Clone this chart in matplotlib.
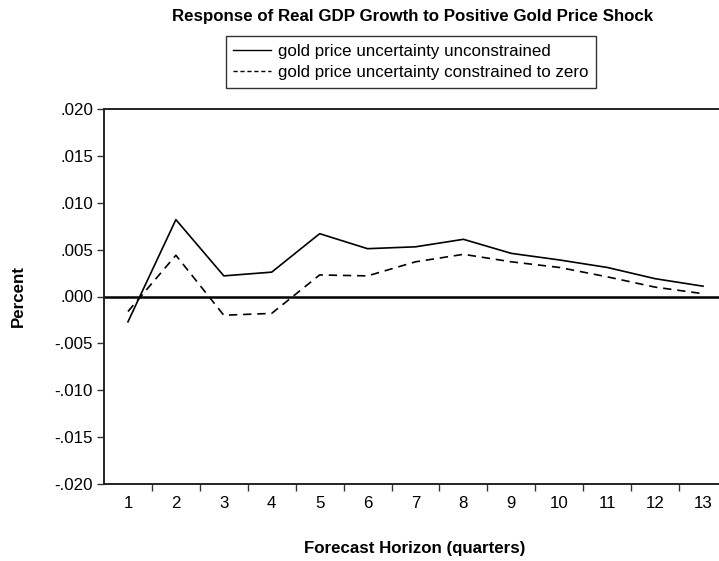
import matplotlib
matplotlib.use("Agg")
import matplotlib.pyplot as plt
from matplotlib.lines import Line2D

plt.rcParams['font.family'] = ['Liberation Sans', 'DejaVu Sans']

# Impulse responses of real GDP growth over the forecast horizon
horizon = list(range(1, 14))
unconstrained = [-0.0027, 0.0082, 0.0022, 0.0026, 0.0067, 0.0051, 0.0053,
                 0.0061, 0.0046, 0.0039, 0.0031, 0.0019, 0.0011]
constrained = [-0.0016, 0.0044, -0.0020, -0.0018, 0.0023, 0.0022, 0.0037,
               0.0045, 0.0037, 0.0031, 0.0021, 0.0010, 0.0003]
series_labels = ["gold price uncertainty unconstrained",
                 "gold price uncertainty constrained to zero"]
y_ticks = [-0.020, -0.015, -0.010, -0.005, 0.000, 0.005, 0.010, 0.015, 0.020]
y_tick_labels = ["-.020", "-.015", "-.010", "-.005", ".000",
                 ".005", ".010", ".015", ".020"]

FS = 12.2
W, H = 719, 561
fig = plt.figure(figsize=(W / 100, H / 100), dpi=100)
ax = fig.add_axes([104 / W, (H - 484) / H, 623 / W, 375 / H])

ax.plot(horizon, unconstrained, color='black', lw=1.2, ls='-')
ax.plot(horizon, constrained, color='black', lw=1.2, ls=(0, (5, 3.5)))
ax.axhline(0, color='black', lw=1.8)

ax.set_xlim(0.5, 13.5)
ax.set_ylim(-0.020, 0.020)

# category boundaries carry the tick marks, centres carry the labels
ax.set_xticks([h + 0.5 for h in horizon[:-1]])
ax.set_xticklabels([])
ax.set_xticks(horizon, minor=True)
ax.set_xticklabels([str(h) for h in horizon], minor=True)
ax.tick_params(axis='x', which='major', direction='out', length=5, width=1, color='#333333')
ax.tick_params(axis='x', which='minor', length=0, pad=9, labelsize=FS)

ax.set_yticks(y_ticks)
ax.set_yticklabels(y_tick_labels)
ax.tick_params(axis='y', direction='out', length=5, width=1, color='#333333', labelsize=FS, pad=3)

for side in ('left', 'bottom', 'top'):
    ax.spines[side].set_color('#222222')
    ax.spines[side].set_linewidth(1.4)
ax.spines['right'].set_visible(False)

fig.text(18 / W, 1 - 296 / H, "Percent", rotation=90, ha='center', va='center',
         fontsize=FS, fontweight='bold')
fig.text(415 / W, 1 - 548 / H, "Forecast Horizon (quarters)", ha='center', va='center',
         fontsize=FS, fontweight='bold')
fig.text(413 / W, 1 - 17 / H, "Response of Real GDP Growth to Positive Gold Price Shock",
         ha='center', va='center', fontsize=FS, fontweight='bold')

handles = [Line2D([], [], color='black', lw=1.0, ls='-'),
           Line2D([], [], color='black', lw=1.0, ls=(0, (3, 2)))]
leg = fig.legend(handles, series_labels, loc='upper center',
                 bbox_to_anchor=(411 / W, 1 - 36 / H), fontsize=FS,
                 frameon=True, fancybox=False, framealpha=1, edgecolor='#333333',
                 handlelength=2.2, handletextpad=0.45, labelspacing=0.4,
                 borderpad=0.45, borderaxespad=0)
leg.get_frame().set_linewidth(1.0)

fig.savefig("out.png", dpi=100)
